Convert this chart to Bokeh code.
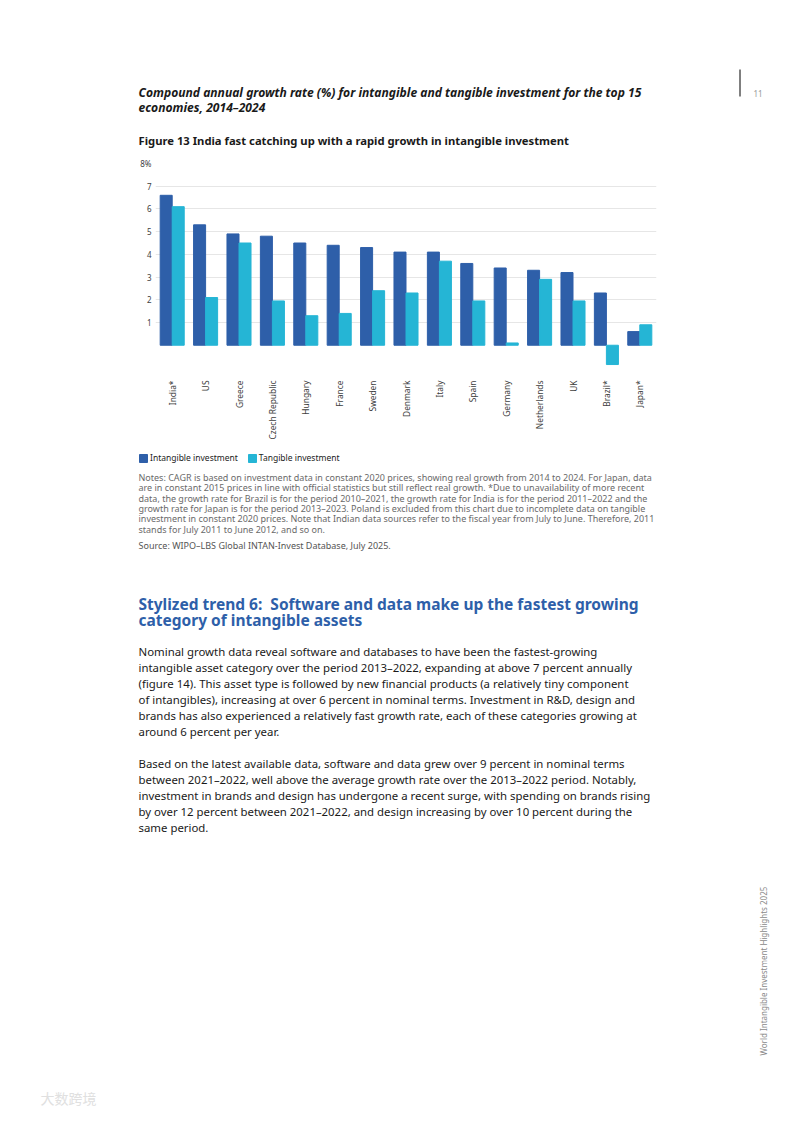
import math
from bokeh.plotting import figure
from bokeh.layouts import column
from bokeh.models import (FactorRange, Range1d, FixedTicker, Label, Legend, LegendItem)
from bokeh.transform import dodge
from bokeh.embed import file_html
from bokeh.resources import INLINE

# ---------------- data ----------------
countries = ["India*", "US", "Greece", "Czech Republic", "Hungary", "France", "Sweden",
             "Denmark", "Italy", "Spain", "Germany", "Netherlands", "UK", "Brazil*", "Japan*"]
intangible = [6.6, 5.3, 4.9, 4.8, 4.5, 4.4, 4.3, 4.1, 4.1, 3.6, 3.4, 3.3, 3.2, 2.3, 0.6]
tangible = [6.1, 2.1, 4.5, 1.95, 1.3, 1.4, 2.4, 2.3, 3.7, 1.95, 0.1, 2.9, 1.95, -0.85, 0.9]
y_ticks = [1, 2, 3, 4, 5, 6, 7, 8]
series_names = ["Intangible investment", "Tangible investment"]

title_lines = ["Compound annual growth rate (%) for intangible and tangible investment for the top 15",
               "economies, 2014\u20132024"]
figure_title = "Figure 13 India fast catching up with a rapid growth in intangible investment"
notes_lines = [
    "Notes: CAGR is based on investment data in constant 2020 prices, showing real growth from 2014 to 2024. For Japan, data",
    "are in constant 2015 prices in line with official statistics but still reflect real growth. *Due to unavailability of more recent",
    "data, the growth rate for Brazil is for the period 2010\u20132021, the growth rate for India is for the period 2011\u20132022 and the",
    "growth rate for Japan is for the period 2013\u20132023. Poland is excluded from this chart due to incomplete data on tangible",
    "investment in constant 2020 prices. Note that Indian data sources refer to the fiscal year from July to June. Therefore, 2011",
    "stands for July 2011 to June 2012, and so on.",
]
source_line = "Source: WIPO\u2013LBS Global INTAN-Invest Database, July 2025."
heading_lines = ["Stylized trend 6:\u00a0 Software and data make up the fastest growing",
                 "category of intangible assets"]
para1 = [
    "Nominal growth data reveal software and databases to have been the fastest-growing",
    "intangible asset category over the period 2013\u20132022, expanding at above 7 percent annually",
    "(figure 14). This asset type is followed by new financial products (a relatively tiny component",
    "of intangibles), increasing at over 6 percent in nominal terms. Investment in R&D, design and",
    "brands has also experienced a relatively fast growth rate, each of these categories growing at",
    "around 6 percent per year.",
]
para2 = [
    "Based on the latest available data, software and data grew over 9 percent in nominal terms",
    "between 2021\u20132022, well above the average growth rate over the 2013\u20132022 period. Notably,",
    "investment in brands and design has undergone a recent surge, with spending on brands rising",
    "by over 12 percent between 2021\u20132022, and design increasing by over 10 percent during the",
    "same period.",
]
side_text = "World Intangible Investment Highlights 2025"
page_number = "11"
watermark = "\u5927\u6570\u8de8\u5883"

# ---------------- colours / fonts ----------------
C_INT = "#2e5fa9"
C_TAN = "#25b5d5"
FONT = "Noto Sans"
W = 777

# page bands (page y coordinates)
TOP_H = 150
CH_TOP, CH_H = 150, 296
BOT_TOP = CH_TOP + CH_H
BOT_H = 1106 - BOT_TOP

FL, FT, FW, FH = 155, 163, 501, 204   # chart frame in page coords


def blank(height):
    f = figure(width=W, height=height, output_backend="svg", toolbar_location=None,
               x_range=Range1d(0, W), y_range=Range1d(height, 0),
               x_axis_location=None, y_axis_location=None, frame_align=False,
               min_border=0, min_border_left=0, min_border_right=0,
               min_border_top=0, min_border_bottom=0)
    f.outline_line_color = None
    f.grid.visible = False
    f.background_fill_color = "white"
    f.border_fill_color = "white"
    return f


top = blank(TOP_H)
bot = blank(BOT_H)


def T(fig, off, px, py, text, size, color, style="normal", angle=0.0, font=FONT):
    fig.add_layout(Label(x=px, y=py - off, text=text, text_font=font,
                         text_font_size=f"{size}px", text_color=color,
                         text_font_style=style, angle=angle,
                         text_align="left", text_baseline="alphabetic"))


# ---------------- chart ----------------
p = figure(width=W, height=CH_H, output_backend="svg", toolbar_location=None,
           x_range=FactorRange(*countries, range_padding=0),
           y_range=Range1d(-0.98, 8.0), frame_align=False,
           min_border_left=FL, min_border_right=W - FL - FW,
           min_border_top=FT - CH_TOP, min_border_bottom=CH_H - (FT - CH_TOP) - FH)
p.outline_line_color = None
p.background_fill_color = "white"
p.border_fill_color = "white"

r1 = p.vbar(x=dodge("country", -0.18, range=p.x_range), top="v", bottom=0, width=0.36,
            color=C_INT, source=dict(country=countries, v=intangible))
r2 = p.vbar(x=dodge("country", 0.18, range=p.x_range), top="v", bottom=0, width=0.36,
            color=C_TAN, source=dict(country=countries, v=tangible))

p.xgrid.grid_line_color = None
p.ygrid.ticker = FixedTicker(ticks=y_ticks)
p.ygrid.grid_line_color = "#e6e6e6"
p.ygrid.grid_line_width = 1

p.yaxis.ticker = FixedTicker(ticks=y_ticks)
p.yaxis.major_label_overrides = {8: "8%"}
p.yaxis.axis_line_color = None
p.yaxis.major_tick_line_color = None
p.yaxis.minor_tick_line_color = None
p.yaxis.major_tick_out = 0
p.yaxis.minor_tick_out = 0
p.yaxis.major_label_standoff = 4
p.yaxis.major_label_text_font = FONT
p.yaxis.major_label_text_font_size = "8px"
p.yaxis.major_label_text_color = "#404040"

p.xaxis.axis_line_color = None
p.xaxis.major_tick_line_color = None
p.xaxis.major_tick_out = 0
p.xaxis.major_label_orientation = math.pi / 2
p.xaxis.major_label_standoff = 13
p.xaxis.major_label_text_font = FONT
p.xaxis.major_label_text_font_size = "8.4px"
p.xaxis.major_label_text_color = "#404040"

# ---------------- legend (in the band below the chart) ----------------
nan = float("nan")
d1 = bot.vbar(x=[nan], top=[nan], width=1, color=C_INT)
d2 = bot.vbar(x=[nan], top=[nan], width=1, color=C_TAN)
legend = Legend(items=[LegendItem(label=series_names[0], renderers=[d1]),
                       LegendItem(label=series_names[1], renderers=[d2])],
                orientation="horizontal", location=(138, BOT_H - (463 - BOT_TOP)),
                padding=0, margin=0, spacing=9, label_standoff=2,
                glyph_width=10, glyph_height=10, label_height=10,
                label_text_font=FONT, label_text_font_size="8.5px", label_text_color="#222222",
                border_line_color=None, background_fill_alpha=0)
bot.add_layout(legend, "center")

# ---------------- texts ----------------
for i, s in enumerate(title_lines):
    T(top, 0, 138, 92 + 15 * i, s, 12.1, "#1a1a1a", "bold italic")
T(top, 0, 138, 140, figure_title, 11.25, "#1a1a1a", "bold")
T(top, 0, 753, 93, page_number, 8, "#9a9a9a")
top.segment(x0=[739.5], y0=[69], x1=[739.5], y1=[96], line_color="black", line_width=1)

for i, s in enumerate(notes_lines):
    T(bot, BOT_TOP, 138, 477 + 10.3 * i, s, 9, "#6a6a6a")
T(bot, BOT_TOP, 138, 545, source_line, 9, "#555555")

for i, s in enumerate(heading_lines):
    T(bot, BOT_TOP, 138, 603 + 16 * i, s, 15.5, C_INT, "bold")

for i, s in enumerate(para1):
    T(bot, BOT_TOP, 138, 651 + 16 * i, s, 11.4, "#1a1a1a")
for i, s in enumerate(para2):
    T(bot, BOT_TOP, 138, 763 + 16 * i, s, 11.4, "#1a1a1a")

T(bot, BOT_TOP, 763, 1055, side_text, 8, "#8a8a8a", angle=math.pi / 2)
T(bot, BOT_TOP, 40, 1097, watermark, 14, "#e0e0e0", font="Noto Sans CJK SC")

layout = column(top, p, bot, spacing=0)
open("out.html", "w").write(file_html(layout, INLINE))
